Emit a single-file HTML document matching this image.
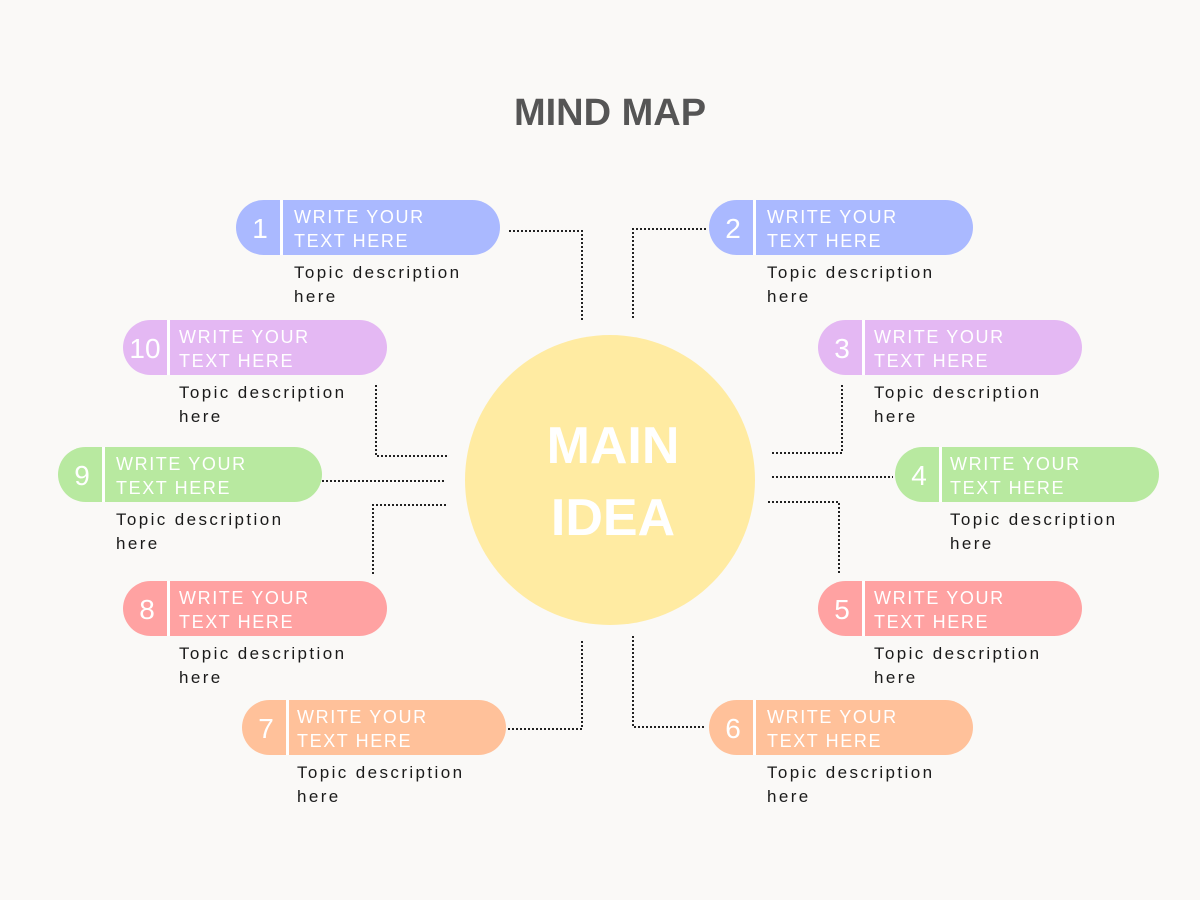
<!DOCTYPE html>
<html><head><meta charset="utf-8"><style>
html,body{margin:0;padding:0;background:#faf9f7;}
svg{display:block}
.t{font-family:"Liberation Sans",sans-serif;}
.p{fill:#fff;font-size:18px;letter-spacing:1.6px;font-family:"Liberation Sans",sans-serif;}
.n{fill:#fff;font-size:28px;font-family:"Liberation Sans",sans-serif;text-anchor:middle;}
.d{fill:#1a1a1a;font-size:17px;letter-spacing:2.4px;font-family:"Liberation Sans",sans-serif;}
.c{stroke:#222;stroke-width:2;stroke-dasharray:2 2;fill:none;}
</style></head><body>
<svg width="1200" height="900" viewBox="0 0 1200 900" xmlns="http://www.w3.org/2000/svg">
<rect width="1200" height="900" fill="#faf9f7"/>
<text x="610" y="125" text-anchor="middle" class="t" font-size="38" font-weight="bold" fill="#555">MIND MAP</text>
<circle cx="610" cy="480" r="145" fill="#ffeba2"/>
<text x="613" y="463" text-anchor="middle" class="t" font-size="52" font-weight="bold" fill="#fff">MAIN</text>
<text x="613" y="535" text-anchor="middle" class="t" font-size="52" font-weight="bold" fill="#fff">IDEA</text>

<path class="c" d="M509 231H582V322"/>
<path class="c" d="M633 318V229H706"/>
<path class="c" d="M376 385V456H449"/>
<path class="c" d="M842 385V453H770"/>
<path class="c" d="M322 481H444"/>
<path class="c" d="M772 477H893"/>
<path class="c" d="M446 505H373V575"/>
<path class="c" d="M768 502H839V575"/>
<path class="c" d="M582 641V729H506"/>
<path class="c" d="M633 636V727H706"/>

<g transform="translate(236,200)"><rect width="264" height="55" rx="27.5" fill="#aab9ff"/><rect x="44" width="3" height="55" fill="#fff"/><text x="24" y="38" class="n">1</text><text x="58" y="23" class="p">WRITE YOUR</text><text x="58" y="47" class="p">TEXT HERE</text><text x="58" y="78" class="d">Topic description</text><text x="58" y="102" class="d">here</text></g>
<g transform="translate(709,200)"><rect width="264" height="55" rx="27.5" fill="#aab9ff"/><rect x="44" width="3" height="55" fill="#fff"/><text x="24" y="38" class="n">2</text><text x="58" y="23" class="p">WRITE YOUR</text><text x="58" y="47" class="p">TEXT HERE</text><text x="58" y="78" class="d">Topic description</text><text x="58" y="102" class="d">here</text></g>
<g transform="translate(123,320)"><rect width="264" height="55" rx="27.5" fill="#e4b8f3"/><rect x="44" width="3" height="55" fill="#fff"/><text x="22" y="38" class="n">10</text><text x="56" y="23" class="p">WRITE YOUR</text><text x="56" y="47" class="p">TEXT HERE</text><text x="56" y="78" class="d">Topic description</text><text x="56" y="102" class="d">here</text></g>
<g transform="translate(818,320)"><rect width="264" height="55" rx="27.5" fill="#e4b8f3"/><rect x="44" width="3" height="55" fill="#fff"/><text x="24" y="38" class="n">3</text><text x="56" y="23" class="p">WRITE YOUR</text><text x="56" y="47" class="p">TEXT HERE</text><text x="56" y="78" class="d">Topic description</text><text x="56" y="102" class="d">here</text></g>
<g transform="translate(58,447)"><rect width="264" height="55" rx="27.5" fill="#b8e9a0"/><rect x="44" width="3" height="55" fill="#fff"/><text x="24" y="38" class="n">9</text><text x="58" y="23" class="p">WRITE YOUR</text><text x="58" y="47" class="p">TEXT HERE</text><text x="58" y="78" class="d">Topic description</text><text x="58" y="102" class="d">here</text></g>
<g transform="translate(895,447)"><rect width="264" height="55" rx="27.5" fill="#b8e9a0"/><rect x="44" width="3" height="55" fill="#fff"/><text x="24" y="38" class="n">4</text><text x="55" y="23" class="p">WRITE YOUR</text><text x="55" y="47" class="p">TEXT HERE</text><text x="55" y="78" class="d">Topic description</text><text x="55" y="102" class="d">here</text></g>
<g transform="translate(123,581)"><rect width="264" height="55" rx="27.5" fill="#ffa2a2"/><rect x="44" width="3" height="55" fill="#fff"/><text x="24" y="38" class="n">8</text><text x="56" y="23" class="p">WRITE YOUR</text><text x="56" y="47" class="p">TEXT HERE</text><text x="56" y="78" class="d">Topic description</text><text x="56" y="102" class="d">here</text></g>
<g transform="translate(818,581)"><rect width="264" height="55" rx="27.5" fill="#ffa2a2"/><rect x="44" width="3" height="55" fill="#fff"/><text x="24" y="38" class="n">5</text><text x="56" y="23" class="p">WRITE YOUR</text><text x="56" y="47" class="p">TEXT HERE</text><text x="56" y="78" class="d">Topic description</text><text x="56" y="102" class="d">here</text></g>
<g transform="translate(242,700)"><rect width="264" height="55" rx="27.5" fill="#ffc19a"/><rect x="44" width="3" height="55" fill="#fff"/><text x="24" y="38" class="n">7</text><text x="55" y="23" class="p">WRITE YOUR</text><text x="55" y="47" class="p">TEXT HERE</text><text x="55" y="78" class="d">Topic description</text><text x="55" y="102" class="d">here</text></g>
<g transform="translate(709,700)"><rect width="264" height="55" rx="27.5" fill="#ffc19a"/><rect x="44" width="3" height="55" fill="#fff"/><text x="24" y="38" class="n">6</text><text x="58" y="23" class="p">WRITE YOUR</text><text x="58" y="47" class="p">TEXT HERE</text><text x="58" y="78" class="d">Topic description</text><text x="58" y="102" class="d">here</text></g>
</svg>
</body></html>
